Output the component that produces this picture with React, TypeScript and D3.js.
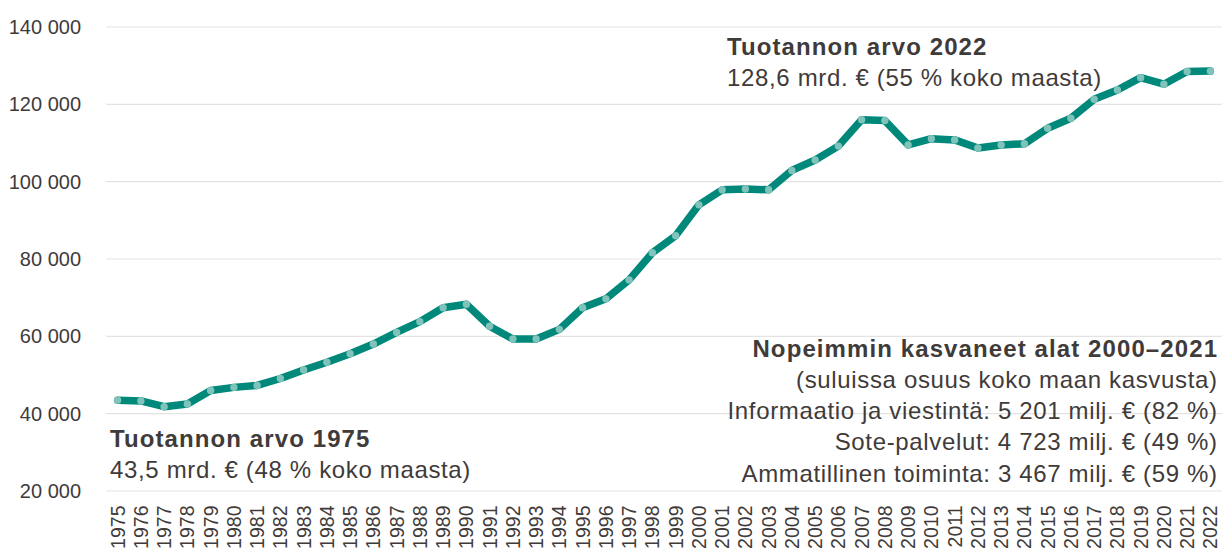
import React from "react";
import * as d3 from "d3";

const years: number[] = d3.range(1975, 2023);
const values: number[] = [
  43500, 43300, 41800, 42500, 46000, 46800, 47300, 49100, 51300, 53300,
  55500, 58000, 61000, 63800, 67400, 68300, 62600, 59300, 59300, 61800,
  67400, 69700, 74600, 81600, 86000, 94000, 97900, 98100, 97900, 102900,
  105600, 109200, 116000, 115800, 109500, 111100, 110800, 108700, 109500, 109800,
  113800, 116400, 121300, 123700, 126900, 125200, 128500, 128600,
];
const yTicks: number[] = [20000, 40000, 60000, 80000, 100000, 120000, 140000];
const topTitle = "Tuotannon arvo 2022";
const topSub = "128,6 mrd. € (55 % koko maasta)";
const bottomTitle = "Tuotannon arvo 1975";
const bottomSub = "43,5 mrd. € (48 % koko maasta)";
const rightLines: string[] = [
  "(suluissa osuus koko maan kasvusta)",
  "Informaatio ja viestintä: 5 201 milj. € (82 %)",
  "Sote-palvelut: 4 723 milj. € (49 %)",
  "Ammatillinen toiminta: 3 467 milj. € (59 %)",
];
const rightTitle = "Nopeimmin kasvaneet alat 2000–2021";

const W = 1228;
const H = 550;
const left = 106;
const right = 1222;
const font = "'Liberation Sans', Arial, sans-serif";
const textColor = "#3f3b3a";
const FS = 24;
const LS_B = 1.1;
const LS_R = 0.65;

export default function App() {
  const x = d3
    .scaleBand<number>()
    .domain(years)
    .range([left, right])
    .paddingInner(0)
    .paddingOuter(0);
  const cx = (yr: number) => (x(yr) as number) + x.bandwidth() / 2;
  const y = d3.scaleLinear().domain([20000, 140000]).range([491, 27]);
  const fmt = (v: number) => d3.format(",")(v).replace(/,/g, " ");
  const line = d3
    .line<number>()
    .x((_, i) => cx(years[i]))
    .y((d) => y(d));

  return (
    <svg
      width={W}
      height={H}
      style={{ position: "absolute", left: 0, top: 0, fontFamily: font }}
    >
      <rect width={W} height={H} fill="#fff" />
      {yTicks.map((t) => (
        <g key={t}>
          <line x1={left} x2={right} y1={y(t)} y2={y(t)} stroke="#e3e3e3" strokeWidth={1.2} />
          <text x={81} y={y(t) + 7} textAnchor="end" fontSize={20} fill={textColor}>
            {fmt(t)}
          </text>
        </g>
      ))}
      {years.map((yr) => (
        <text
          key={yr}
          transform={`translate(${cx(yr) + 7},505.5) rotate(-90)`}
          textAnchor="end"
          fontSize={19.5}
          fill={textColor}
        >
          {yr}
        </text>
      ))}
      <path
        d={line(values) || ""}
        fill="none"
        stroke="#00897a"
        strokeWidth={7.5}
        strokeLinejoin="round"
        strokeLinecap="round"
      />
      {values.map((v, i) => (
        <circle key={i} cx={cx(years[i])} cy={y(v)} r={3.7} fill="#7fc3ba" />
      ))}
      <text x={727} y={55} fontSize={FS} fontWeight="bold" letterSpacing={LS_B} fill={textColor}>
        {topTitle}
      </text>
      <text x={727} y={86} fontSize={FS} letterSpacing={LS_R} fill={textColor}>
        {topSub}
      </text>
      <text x={110} y={447} fontSize={FS} fontWeight="bold" letterSpacing={LS_B} fill={textColor}>
        {bottomTitle}
      </text>
      <text x={110} y={478} fontSize={FS} letterSpacing={LS_R} fill={textColor}>
        {bottomSub}
      </text>
      <text
        x={1217 + LS_B}
        y={357}
        fontSize={FS}
        fontWeight="bold"
        letterSpacing={LS_B}
        fill={textColor}
        textAnchor="end"
      >
        {rightTitle}
      </text>
      {rightLines.map((s, i) => (
        <text
          key={i}
          x={1217 + LS_R}
          y={388 + i * 31.2}
          fontSize={FS}
          letterSpacing={LS_R}
          fill={textColor}
          textAnchor="end"
        >
          {s}
        </text>
      ))}
    </svg>
  );
}
